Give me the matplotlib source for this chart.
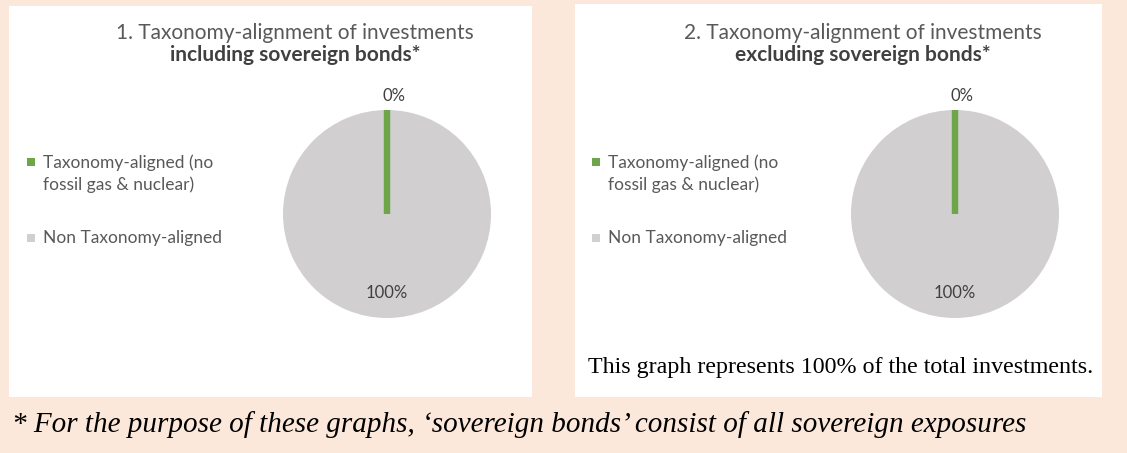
import math
import matplotlib
matplotlib.use('Agg')
import matplotlib.pyplot as plt
from matplotlib.patches import Rectangle

# data
categories = ['Taxonomy-aligned (no\nfossil gas & nuclear)', 'Non Taxonomy-aligned']
incl_sov = [0, 100]
excl_sov = [0, 100]
titles = ['1. Taxonomy-alignment of investments', '2. Taxonomy-alignment of investments']
subtitles = ['including sovereign bonds*', 'excluding sovereign bonds*']
note = 'This graph represents 100% of the total investments.'
footnote = '* For the purpose of these graphs, \u2018sovereign bonds\u2019 consist of all sovereign exposures'

colors = ['#6EA548', '#D1CFCF']
grey_txt = '#595959'

W, H = 1127, 453
fig = plt.figure(figsize=(W / 100, H / 100), dpi=100)
fig.patch.set_facecolor('#FCE8DA')


def fx(px):
    return px / W


def fy(py):
    return 1 - py / H


# white panels (left, top, right, bottom in px)
panels = [(9, 6, 532, 397), (575, 4, 1102, 397)]
for l, t, r, b in panels:
    fig.add_artist(Rectangle((fx(l), fy(b)), fx(r - l), (b - t) / H,
                             transform=fig.transFigure, facecolor='white',
                             edgecolor='none', zorder=0))

radius_px = 104
pie_centres = [(387, 214), (955, 214)]
title_x = [295, 863]
legend_x = [27, 592]

for k, vals in enumerate([incl_sov, excl_sov]):
    cx, cy = pie_centres[k]
    ax = fig.add_axes([fx(cx - radius_px), fy(cy + radius_px),
                       fx(2 * radius_px), 2 * radius_px / H])
    wedges, _ = ax.pie(vals, colors=colors, startangle=90, counterclock=False,
                       wedgeprops=dict(linewidth=0))
    # zero slice is shown as a thin green line like in excel
    wedges[0].set_edgecolor(colors[0])
    wedges[0].set_linewidth(4.6)
    wedges[0].set_joinstyle('bevel')
    wedges[0].set_zorder(3)
    ax.set_xlim(-1, 1)
    ax.set_ylim(-1, 1)

    # data labels
    tot = sum(vals)
    start = 90
    for v in vals:
        ang = start - 360 * v / tot / 2
        start -= 360 * v / tot
        d = 1.13 if v / tot < 0.05 else 0.76
        ax.text(d * math.cos(math.radians(ang)) + (0.07 if d > 1 else 0),
                d * math.sin(math.radians(ang)),
                f'{v:.0f}%', ha='center', va='center', fontsize=12,
                color='#404040', family='Lato')

    # titles
    fig.text(fx(title_x[k]), fy(33), titles[k], ha='center', va='center',
             fontsize=15, color=grey_txt, family='Lato')
    fig.text(fx(title_x[k]), fy(55), subtitles[k], ha='center', va='center',
             fontsize=15, color='#404040', family='Lato', fontweight='bold')

    # legend
    ys = [173.5, 238]
    sq_y = [162, 238]
    for i, lab in enumerate(categories):
        fig.add_artist(Rectangle((fx(legend_x[k]), fy(sq_y[i] + 4)), fx(8), 8 / H,
                                 transform=fig.transFigure, facecolor=colors[i],
                                 edgecolor='none'))
        fig.text(fx(legend_x[k] + 16), fy(ys[i]), lab, ha='left', va='center',
                 fontsize=12.5, color=grey_txt, family='Lato', linespacing=1.38)

fig.text(fx(588), fy(367), note, ha='left', va='center', fontsize=17.3,
         family='Liberation Serif', color='black')
fig.text(fx(12), fy(425), footnote, ha='left', va='center', fontsize=21,
         family='Liberation Serif', style='italic', color='black')

fig.savefig('out.png', dpi=100, facecolor=fig.get_facecolor())
